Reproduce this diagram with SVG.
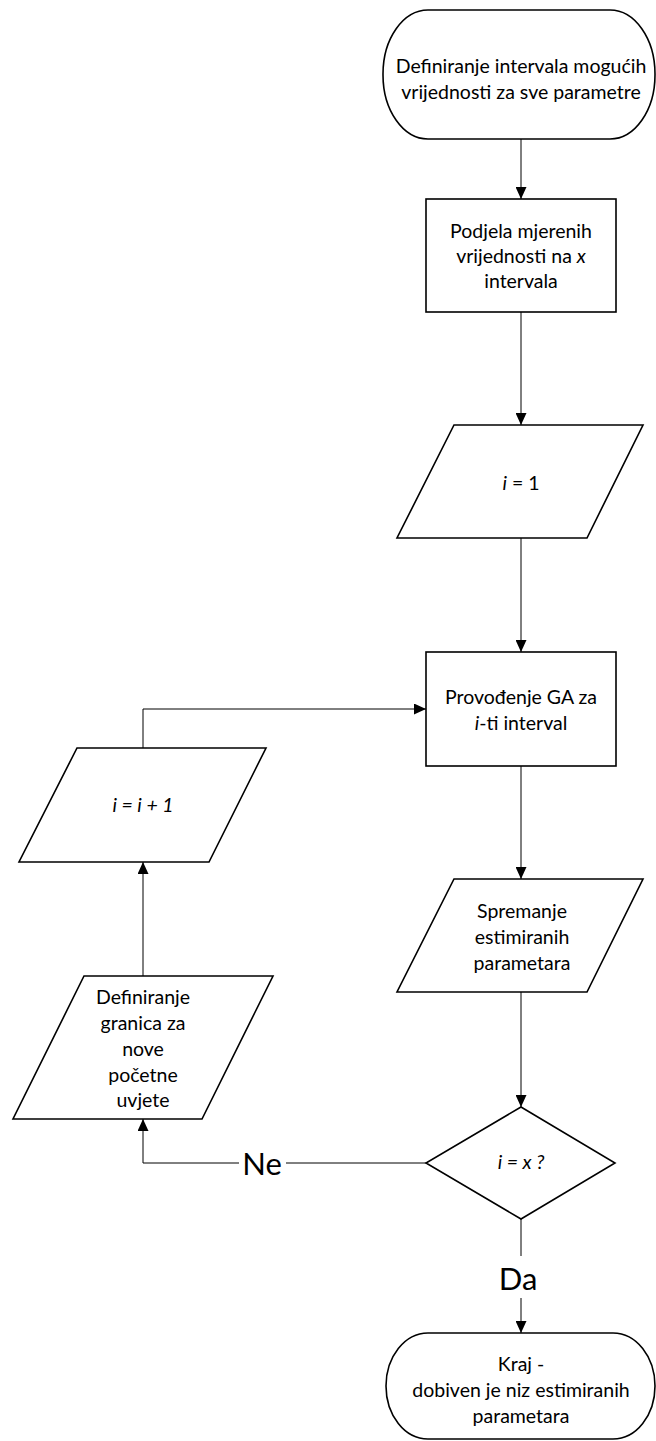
<svg xmlns="http://www.w3.org/2000/svg" width="656" height="1441" viewBox="0 0 656 1441">
<defs>
<style>
.s{fill:#fff;stroke:#000;stroke-width:1.6}
.c{fill:none;stroke:#000;stroke-width:1}
.t{font-family:Lato,"Open Sans",sans-serif;font-size:19.5px;fill:#000;text-anchor:middle}
.big{font-family:Lato,"Open Sans",sans-serif;font-size:31px;fill:#000;text-anchor:middle}
</style>
<marker id="a" viewBox="0 0 12 11" refX="12" refY="5.5" markerWidth="12" markerHeight="11" markerUnits="userSpaceOnUse" orient="auto">
<path d="M0,0 L12,5.5 L0,11 z" fill="#000"/>
</marker>
</defs>
<rect width="656" height="1441" fill="#fff"/>
<g id="connectors">
<path class="c" d="M521,139 V199" marker-end="url(#a)"/>
<path class="c" d="M521,312 V425" marker-end="url(#a)"/>
<path class="c" d="M521,538 V652" marker-end="url(#a)"/>
<path class="c" d="M521,766 V879" marker-end="url(#a)"/>
<path class="c" d="M521,992 V1107" marker-end="url(#a)"/>
<path class="c" d="M426,1163 H143 V1119" marker-end="url(#a)"/>
<path class="c" d="M143,976 V862" marker-end="url(#a)"/>
<path class="c" d="M143,748 V709 H426" marker-end="url(#a)"/>
<path class="c" d="M521,1219 V1333" marker-end="url(#a)"/>
<rect x="239" y="1148" width="47" height="32" fill="#fff"/>
<text class="big" x="262" y="1175">Ne</text>
<rect x="494" y="1256" width="50" height="42" fill="#fff"/>
<text class="big" x="518" y="1290">Da</text>
</g>
<g id="start">
<rect class="s" x="383" y="10" width="272" height="129" rx="45" ry="64"/>
<text class="t" x="521" y="73">Definiranje intervala mogućih</text>
<text class="t" x="521" y="99">vrijednosti za sve parametre</text>
</g>
<g id="podjela">
<rect class="s" x="426" y="199" width="190" height="113"/>
<text class="t" x="521" y="238">Podjela mjerenih</text>
<text class="t" x="521" y="263">vrijednosti na <tspan font-style="italic">x</tspan></text>
<text class="t" x="521" y="288">intervala</text>
</g>
<g id="i1">
<polygon class="s" points="454,425 643,425 587,538 397,538"/>
<text class="t" x="521" y="490"><tspan font-style="italic">i</tspan> = 1</text>
</g>
<g id="provodenje">
<rect class="s" x="426" y="652" width="190" height="114"/>
<text class="t" x="521" y="704">Provođenje GA za</text>
<text class="t" x="521" y="730"><tspan font-style="italic">i</tspan>-ti interval</text>
</g>
<g id="spremanje">
<polygon class="s" points="454,879 643,879 587,992 397,992"/>
<text class="t" x="522" y="918">Spremanje</text>
<text class="t" x="522" y="944">estimiranih</text>
<text class="t" x="522" y="970">parametara</text>
</g>
<g id="uvjet">
<polygon class="s" points="521,1107 615,1163 521,1219 426,1163"/>
<text class="t" x="521" y="1169" font-style="italic">i = x ?</text>
</g>
<g id="definiranje">
<polygon class="s" points="84,976 273,976 202,1119 13,1119"/>
<text class="t" x="143" y="1004">Definiranje</text>
<text class="t" x="143" y="1030">granica za</text>
<text class="t" x="143" y="1056">nove</text>
<text class="t" x="143" y="1082">početne</text>
<text class="t" x="143" y="1107">uvjete</text>
</g>
<g id="inc">
<polygon class="s" points="77,748 266,748 209,862 19,862"/>
<text class="t" x="143" y="812" font-style="italic">i = i + 1</text>
</g>
<g id="kraj">
<rect class="s" x="386" y="1333" width="269" height="106" rx="42" ry="53"/>
<text class="t" x="521" y="1371">Kraj -</text>
<text class="t" x="521" y="1397">dobiven je niz estimiranih</text>
<text class="t" x="521" y="1423">parametara</text>
</g>
</svg>
